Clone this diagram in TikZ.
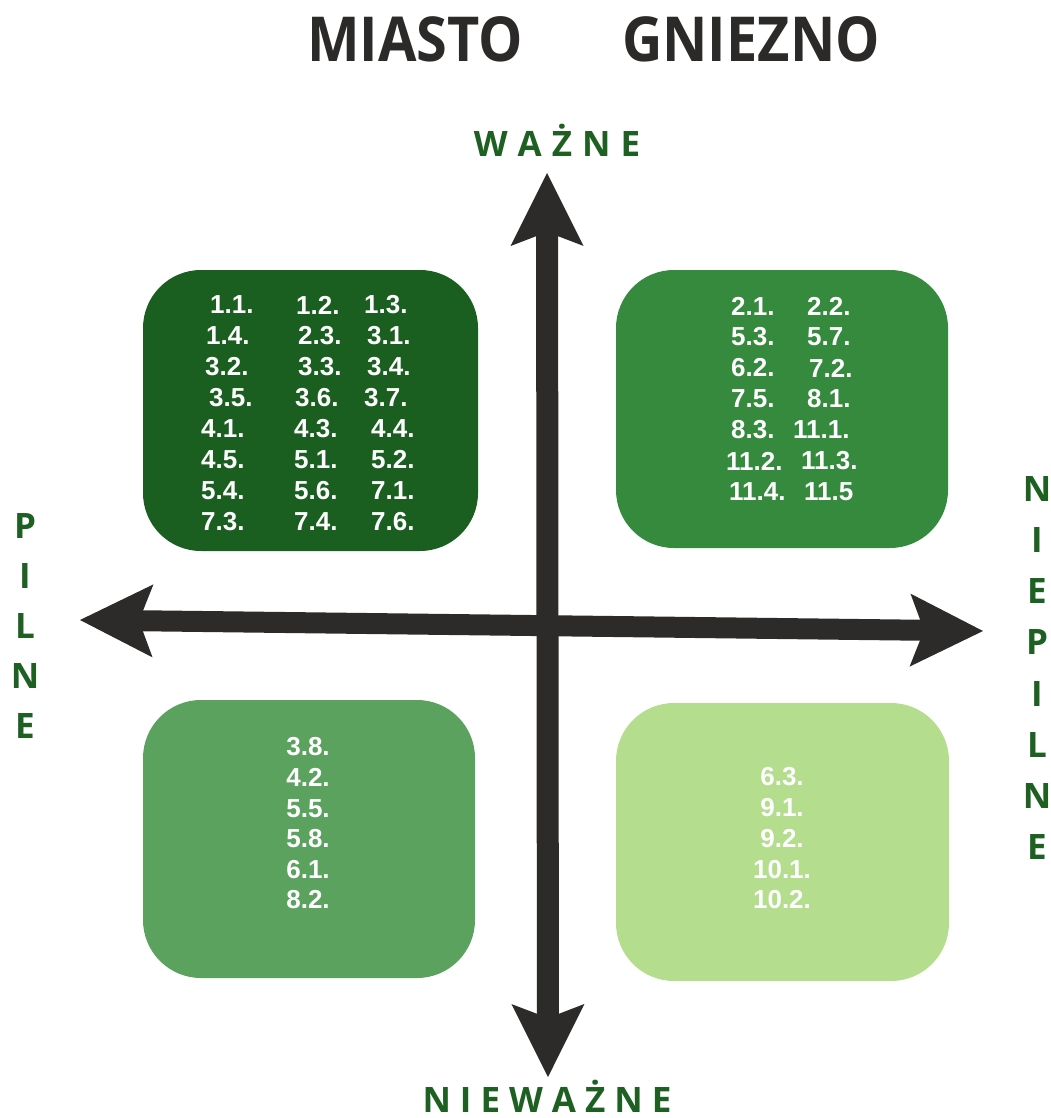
\documentclass[tikz,border=0pt]{standalone}
\usepackage{fontspec}
\setmainfont{Liberation Sans}
\newfontfamily\headfont{Open Sans}
\newfontfamily\titlefont[FakeStretch=0.9]{Open Sans}
\usetikzlibrary{arrows.meta}

\definecolor{titlegray}{HTML}{2B2A28}
\definecolor{axisdark}{HTML}{2D2B29}
\definecolor{labelgreen}{HTML}{1D6022}
\definecolor{qone}{HTML}{1A5E20}
\definecolor{qtwo}{HTML}{358A3E}
\definecolor{qthree}{HTML}{5BA25F}
\definecolor{qfour}{HTML}{B4DD8E}

\tikzset{axishead/.tip={Stealth[length=73pt, width=73pt, inset=14pt, line width=0pt]}}

\begin{document}
\begin{tikzpicture}[x=1pt,y=-1pt,
  quad/.style={rectangle, rounded corners=58pt, inner sep=0pt},
  item/.style={text=white, inner sep=0pt, font=\bfseries\fontsize{26}{26}\selectfont},
  axislabel/.style={text=labelgreen, inner sep=0pt, font=\headfont\bfseries\fontsize{35}{35}\selectfont},
  titletext/.style={text=titlegray, inner sep=0pt, font=\titlefont\bfseries\fontsize{62}{62}\selectfont},
  axisline/.style={draw=axisdark, fill=axisdark, line width=22pt}
]
\useasboundingbox (0,0) rectangle (1050,1118);

% title
\node[titletext, anchor=base] (t1) at (415,62) {MIASTO};
\node[titletext, anchor=base] (t2) at (751,62) {GNIEZNO};

% quadrants
\node[quad, fill=qone, minimum width=335pt, minimum height=281pt] (tl) at (310.5,410.5) {};
\node[quad, fill=qtwo, minimum width=332pt, minimum height=278pt] (tr) at (782,409) {};
\node[quad, fill=qthree, minimum width=332pt, minimum height=278pt] (bl) at (309,839) {};
\node[quad, fill=qfour, minimum width=333pt, minimum height=278pt] (br) at (782.5,842) {};

% axes
\coordinate (up) at (547,173);
\coordinate (down) at (548,1077);
\coordinate (left) at (80,620);
\coordinate (right) at (983,631);
\draw[axisline, axishead-axishead] (up) -- (down);
\draw[axisline, line width=21pt, axishead-axishead] (left) -- (right);

% axis labels
\node[axislabel, anchor=base] (lw) at (557,157) {W\kern10pt A\kern10pt Ż\kern10pt N\kern10pt E};
\node[axislabel, anchor=base] (ln) at (547,1112) {N\kern9pt I\kern9pt E\kern9pt W\kern9pt A\kern9pt Ż\kern9pt N\kern9pt E};
\node[axislabel, align=center, font=\headfont\bfseries\fontsize{35}{50}\selectfont] (lp) at (25,626) {P\\I\\L\\N\\E};
\node[axislabel, align=center, font=\headfont\bfseries\fontsize{35}{51.1}\selectfont] (lnp) at (1037,668) {N\\I\\E\\P\\I\\L\\N\\E};

% top-left items
\foreach \y/\a/\ta/\b/\tb/\c/\tc [count=\r] in {
  305/210/1.1./296/1.2./364/1.3.,
  336/206/1.4./298/2.3./367/3.1.,
  367/205/3.2./298/3.3./367/3.4.,
  398/209/3.5./295/3.6./364/3.7.,
  429/201/4.1./294/4.3./371/4.4.,
  460/201/4.5./294/5.1./371/5.2.,
  491/201/5.4./294/5.6./371/7.1.,
  522/201/7.3./294/7.4./371/7.6.}{
  \node[item, anchor=west] (tl-\r-a) at (\a,\y) {\ta};
  \node[item, anchor=west] (tl-\r-b) at (\b,\y) {\tb};
  \node[item, anchor=west] (tl-\r-c) at (\c,\y) {\tc};
}

% top-right items
\foreach \y/\a/\ta/\b/\tb [count=\r] in {
  306/731/2.1./807/2.2.,
  337/731/5.3./807/5.7.,
  368/731/6.2./809/7.2.,
  399/731/7.5./807/8.1.,
  430/731/8.3./793/11.1.,
  461/726/11.2./801/11.3.,
  492/729/11.4./804/11.5}{
  \node[item, anchor=west] (tr-\r-a) at (\a,\y) {\ta};
  \node[item, anchor=west] (tr-\r-b) at (\b,\y) {\tb};
}

% bottom-left items
\foreach \t [count=\r] in {3.8.,4.2.,5.5.,5.8.,6.1.,8.2.}{
  \node[item] (bl-\r) at (308,{747+30.6*(\r-1)}) {\t};
}

% bottom-right items
\foreach \t [count=\r] in {6.3.,9.1.,9.2.,10.1.,10.2.}{
  \node[item] (br-\r) at (782,{777+30.75*(\r-1)}) {\t};
}
\end{tikzpicture}
\end{document}
